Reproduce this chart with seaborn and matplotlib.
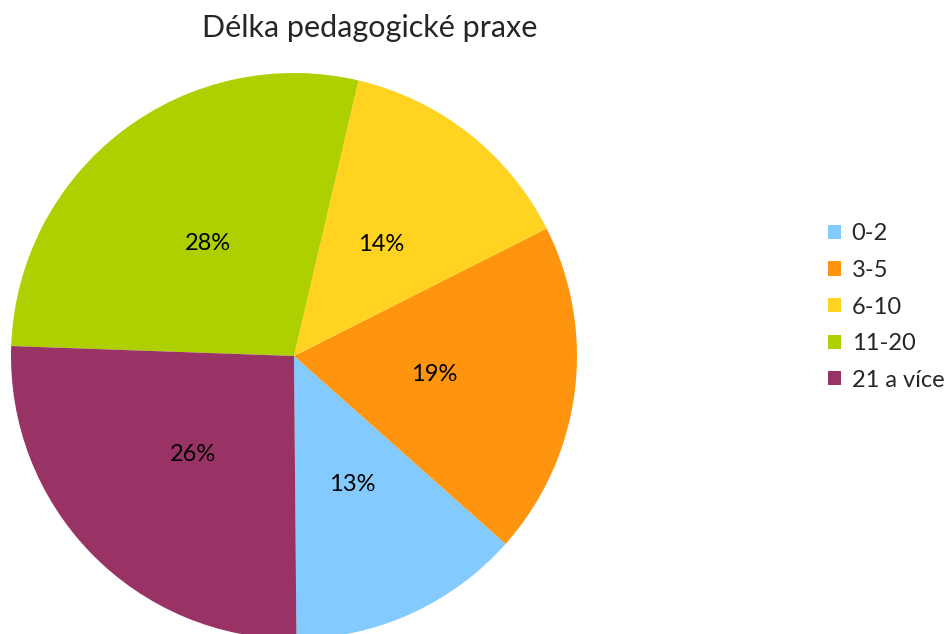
import numpy as np
import matplotlib
matplotlib.use("Agg")
import matplotlib.pyplot as plt
import seaborn as sns

# data (shares in %, from the wedge angles)
categories = ["0-2", "3-5", "6-10", "11-20", "21 a více"]
shares = [13.3, 19.0, 13.9, 28.1, 25.7]
colors = ["#83CAFF", "#FF950E", "#FFD320", "#AECF00", "#993366"]
title = "Délka pedagogické praxe"

sns.set_theme(style="white")
plt.rcParams["font.family"] = ["Lato", "DejaVu Sans"]

W, H = 951, 634
fig = plt.figure(figsize=(W / 100, H / 100), dpi=100)

# pie centre ~ (294, 356) px, radius ~283 px
cx, cy, r = 294, 356, 283
ax = fig.add_axes([(cx - r) / W, (H - cy - r) / H, 2 * r / W, 2 * r / H])

wedges, texts, autotexts = ax.pie(
    shares,
    colors=colors,
    startangle=-89.5,
    counterclock=True,
    autopct="%.0f%%",
    pctdistance=0.5,
    wedgeprops=dict(linewidth=0),
    textprops=dict(fontsize=17, color="black"),
)
ax.set_xlim(-1, 1)
ax.set_ylim(-1, 1)
ax.set_aspect("equal")
ax.axis("off")

fig.text(370 / W, 1 - 28 / H, title, ha="center", va="center", fontsize=22)

fig.legend(
    wedges, categories,
    loc="center left",
    bbox_to_anchor=(828 / W, 1 - 307 / H),
    frameon=False,
    fontsize=17,
    handlelength=0.55,
    handleheight=0.55,
    handletextpad=0.45,
    labelspacing=0.66,
    borderpad=0,
    borderaxespad=0,
)

fig.savefig("out.png", dpi=100)
